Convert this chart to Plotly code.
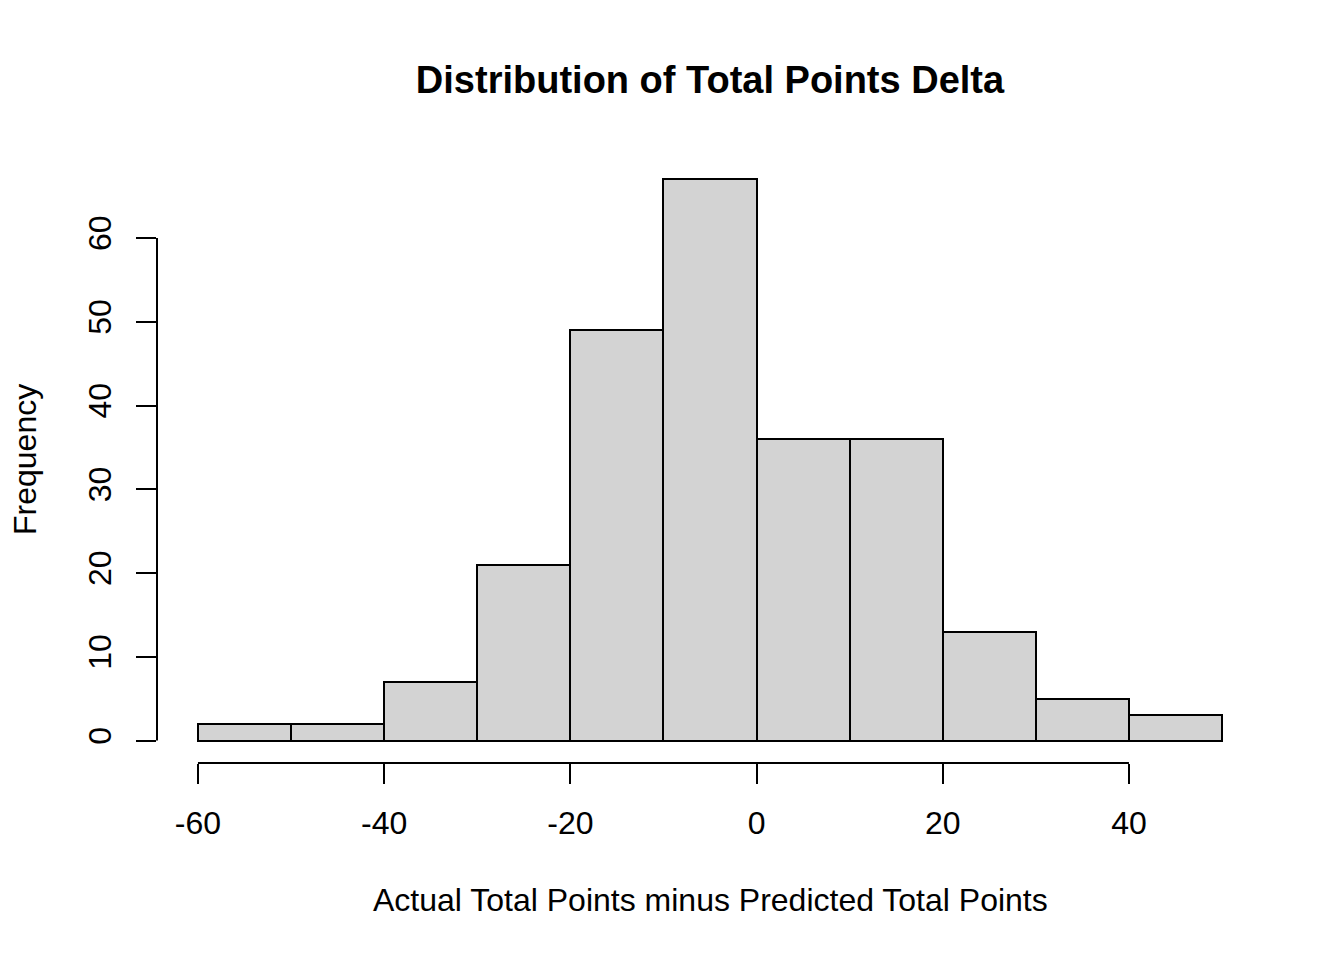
import plotly.graph_objects as go

# Data
bin_edges = [-60, -50, -40, -30, -20, -10, 0, 10, 20, 30, 40, 50]
counts = [2, 2, 7, 21, 49, 67, 36, 36, 13, 5, 3]
x_ticks = [-60, -40, -20, 0, 20, 40]
y_ticks = [0, 10, 20, 30, 40, 50, 60]

title = "Distribution of Total Points Delta"
x_title = "Actual Total Points minus Predicted Total Points"
y_title = "Frequency"

centers = [(a + b) / 2 for a, b in zip(bin_edges[:-1], bin_edges[1:])]
widths = [b - a for a, b in zip(bin_edges[:-1], bin_edges[1:])]

# R-style 4% axis expansion
xspan = bin_edges[-1] - bin_edges[0]
xr = [bin_edges[0] - 0.04 * xspan, bin_edges[-1] + 0.04 * xspan]
yspan = max(counts) - 0
yr = [0 - 0.04 * yspan, max(counts) + 0.04 * yspan]

def xp(v):
    return (v - xr[0]) / (xr[1] - xr[0])

def yp(v):
    return (v - yr[0]) / (yr[1] - yr[0])

FONT = "Liberation Sans, Arial, sans-serif"

fig = go.Figure()
fig.add_trace(go.Bar(
    x=centers, y=counts, width=widths,
    marker=dict(color="#D3D3D3", line=dict(color="black", width=2)),
    hoverinfo="x+y",
))

fig.update_layout(
    width=1344, height=960,
    paper_bgcolor="white", plot_bgcolor="white",
    margin=dict(l=149, r=89, t=149, b=204.5, autoexpand=False),
    showlegend=False,
    font=dict(family=FONT, size=32, color="black"),
    title=dict(text="<b>" + title + "</b>", x=0.5, xref="paper",
               y=1 - 72 / 960, yref="container", yanchor="middle", xanchor="center",
               font=dict(size=38, family=FONT, color="black")),
    bargap=0,
)

fig.update_xaxes(range=xr, tickvals=x_ticks, ticktext=[str(v) for v in x_ticks],
                 showgrid=False, zeroline=False, showline=False,
                 ticks="outside", ticklen=20, tickwidth=2, tickcolor="black",
                 tickfont=dict(size=32, family=FONT), ticklabelstandoff=12,
                 automargin=False)
fig.update_yaxes(range=yr, tickvals=y_ticks, ticktext=[str(v) for v in y_ticks],
                 showgrid=False, zeroline=False, showline=False,
                 ticks="outside", ticklen=20, tickwidth=2, tickcolor="black",
                 tickangle=-90, tickfont=dict(size=32, family=FONT),
                 ticklabelstandoff=12, automargin=False)

# R-style axis lines spanning first to last tick
fig.add_shape(type="line", xref="paper", yref="paper",
              x0=xp(x_ticks[0]), x1=xp(x_ticks[-1]), y0=0, y1=0,
              line=dict(color="black", width=2))
fig.add_shape(type="line", xref="paper", yref="paper",
              x0=0, x1=0, y0=yp(y_ticks[0]), y1=yp(y_ticks[-1]),
              line=dict(color="black", width=2))

fig.add_annotation(text=x_title, xref="paper", yref="paper", x=0.5, y=0,
                   yshift=-(900 - 763.5), showarrow=False,
                   xanchor="center", yanchor="middle",
                   font=dict(size=32, family=FONT, color="black"))
fig.add_annotation(text=y_title, xref="paper", yref="paper", x=0, y=0.5,
                   xshift=-(157 - 25), showarrow=False, textangle=-90,
                   xanchor="center", yanchor="middle",
                   font=dict(size=32, family=FONT, color="black"))

fig.write_html("out.html")
